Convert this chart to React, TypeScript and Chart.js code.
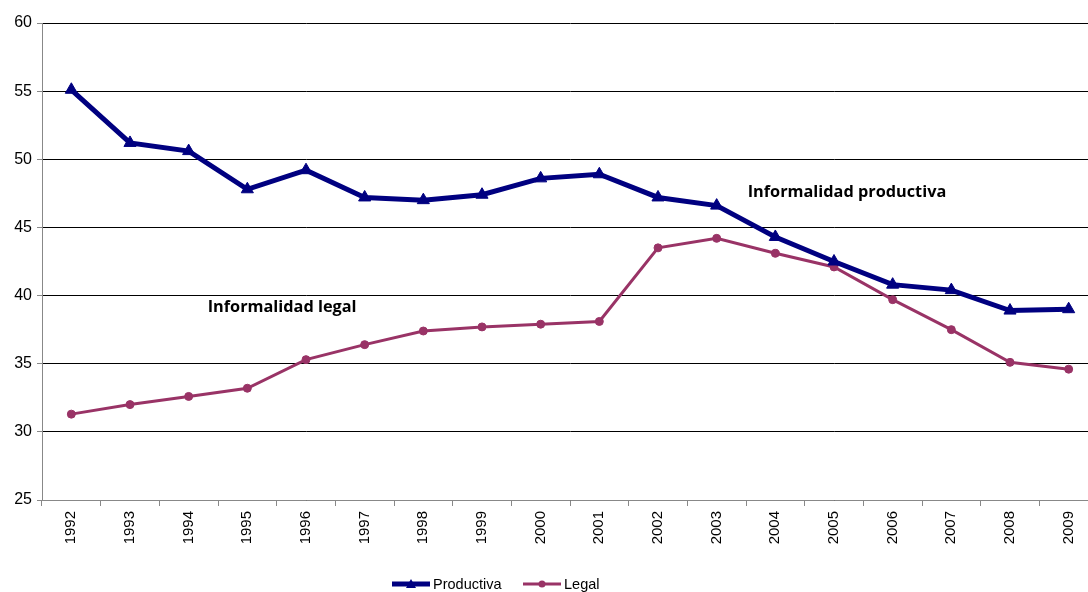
import React, { useEffect, useRef } from "react";
import { Chart, registerables } from "chart.js";

Chart.register(...registerables);

const years = ["1992","1993","1994","1995","1996","1997","1998","1999","2000","2001","2002","2003","2004","2005","2006","2007","2008","2009"];
const productiva = [55.1, 51.2, 50.6, 47.8, 49.2, 47.2, 47.0, 47.4, 48.6, 48.9, 47.2, 46.6, 44.3, 42.5, 40.8, 40.4, 38.9, 39.0];
const legal = [31.3, 32.0, 32.6, 33.2, 35.3, 36.4, 37.4, 37.7, 37.9, 38.1, 43.5, 44.2, 43.1, 42.1, 39.7, 37.5, 35.1, 34.6];
const yTicks = [25, 30, 35, 40, 45, 50, 55, 60];

const NAVY = "#000080";
const PLUM = "#993366";

const overlayPlugin = {
  id: "overlay",
  afterDraw(chart: any) {
    const ctx = chart.ctx;
    const xs = chart.scales.x;
    const ys = chart.scales.y;
    ctx.save();
    ctx.fillStyle = "#000";
    ctx.font = "bold 16.3px 'Open Sans', Lato, sans-serif";
    ctx.textBaseline = "middle";
    ctx.textAlign = "left";
    ctx.fillText("Informalidad productiva", xs.getPixelForValue(11) + 31, ys.getPixelForValue(47.55));
    ctx.fillText("Informalidad legal", xs.getPixelForValue(2) + 19, ys.getPixelForValue(39.15));
    const ly = 584;
    const items = [
      { label: "Productiva", color: NAVY, lw: 5, x0: 392, marker: "tri" },
      { label: "Legal", color: PLUM, lw: 3, x0: 523, marker: "circle" },
    ];
    ctx.font = "14.5px 'Liberation Sans', Arial, sans-serif";
    for (const it of items) {
      ctx.strokeStyle = it.color;
      ctx.lineWidth = it.lw;
      ctx.beginPath();
      ctx.moveTo(it.x0, ly);
      ctx.lineTo(it.x0 + 38, ly);
      ctx.stroke();
      ctx.fillStyle = it.color;
      const cx = it.x0 + 19;
      ctx.beginPath();
      if (it.marker === "tri") {
        ctx.moveTo(cx, ly - 5);
        ctx.lineTo(cx + 5, ly + 4);
        ctx.lineTo(cx - 5, ly + 4);
        ctx.closePath();
      } else {
        ctx.arc(cx, ly, 3.5, 0, Math.PI * 2);
      }
      ctx.fill();
      ctx.fillStyle = "#000";
      ctx.fillText(it.label, it.x0 + 41, ly + 1);
    }
    ctx.restore();
  },
};

export default function App() {
  const ref = useRef<HTMLCanvasElement | null>(null);
  useEffect(() => {
    document.body.style.margin = "0";
    document.documentElement.style.overflow = "hidden";
    const chart = new Chart(ref.current as HTMLCanvasElement, {
      type: "line",
      data: {
        labels: years,
        datasets: [
          {
            label: "Productiva",
            data: productiva,
            borderColor: NAVY,
            backgroundColor: NAVY,
            borderWidth: 5,
            pointStyle: "triangle",
            pointRadius: 7,
            pointBorderWidth: 1,
            tension: 0,
          },
          {
            label: "Legal",
            data: legal,
            borderColor: PLUM,
            backgroundColor: PLUM,
            borderWidth: 3,
            pointStyle: "circle",
            pointRadius: 4,
            pointBorderWidth: 1,
            tension: 0,
          },
        ],
      },
      options: {
        animation: false,
        responsive: false,
        layout: { autoPadding: false, padding: { top: 23, right: 0, left: 0, bottom: 0 } },
        plugins: { legend: { display: false }, tooltip: { enabled: false } },
        scales: {
          x: {
            offset: true,
            grid: {
              offset: true,
              drawOnChartArea: false,
              color: "#888",
              tickLength: 6,
            },
            border: { color: "#888", z: 1 },
            ticks: {
              minRotation: 90,
              maxRotation: 90,
              color: "#000",
              padding: 5,
              font: { family: "'Liberation Sans', Arial, sans-serif", size: 15 },
            },
            afterFit: (s: any) => { s.height = 92; s.paddingLeft = 0; s.paddingRight = 0; },
          },
          y: {
            min: 25,
            max: 60,
            afterBuildTicks: (s: any) => { s.ticks = yTicks.map((v) => ({ value: v })); },
            grid: { color: "#000", tickLength: 5, tickColor: "#888" },
            border: { color: "#888" },
            ticks: {
              color: "#000",
              padding: 5,
              font: { family: "'Liberation Sans', Arial, sans-serif", size: 16 },
            },
            afterFit: (s: any) => { s.width = 42; },
          },
        },
      },
      plugins: [overlayPlugin],
    } as any);
    return () => chart.destroy();
  }, []);
  return (
    <div style={{ width: 1088, height: 592, overflow: "hidden" }}>
      <canvas ref={ref} width={1098} height={592} style={{ display: "block" }} />
    </div>
  );
}
